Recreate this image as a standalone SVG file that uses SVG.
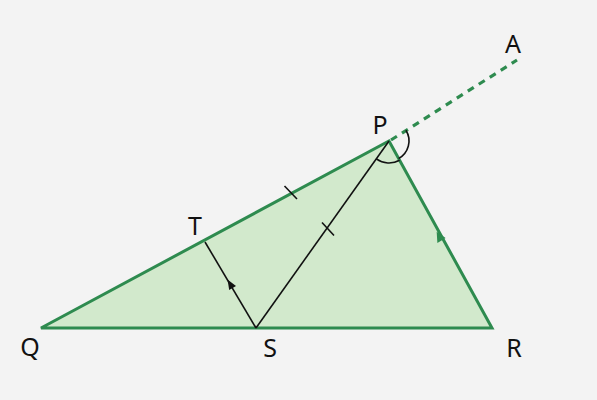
<svg xmlns="http://www.w3.org/2000/svg" width="597" height="400" viewBox="0 0 597 400">
<style>
.lbl{font-family:"Noto Sans","Liberation Sans",sans-serif;font-size:25px;fill:#111;text-anchor:middle}
.edge{fill:none;stroke:#2e8b4f;stroke-width:3;stroke-linejoin:round}
.thin{fill:none;stroke:#111;stroke-width:1.6}
.ahG{fill:#2e8b4f}
.ahK{fill:#111}
</style>
<rect width="597" height="400" fill="#f3f3f3"/>
<g id="triangle">
<polygon points="41,328 389,141 492,328" fill="#d2e9cc" stroke="#2e8b4f" stroke-width="3" stroke-linejoin="miter"/>
</g>
<g id="connectors">
<line x1="391" y1="140" x2="517" y2="60" stroke="#2e8b4f" stroke-width="3.2" stroke-dasharray="7,6"/>
<line class="thin" x1="256" y1="328" x2="389" y2="141"/>
<line class="thin" x1="256" y1="328" x2="205" y2="242"/>
<line class="thin" x1="284.5" y1="186" x2="297" y2="199"/>
<line class="thin" x1="322" y1="222.5" x2="334" y2="235.5"/>
<path class="thin" d="M376.3,158.9 A22,22 0 0 0 399.6,160.3"/>
<path class="thin" d="M405.9,130.3 A20,20 0 0 1 398.6,158.5"/>
<polygon class="ahK" points="227.5,279.5 236,286.1 229.2,290.1"/>
<polygon class="ahG" points="436.7,231.7 445.6,238 437.4,243"/>
</g>
<g id="labels">
<text class="lbl" x="380" y="134">P</text>
<text class="lbl" x="513" y="53">A</text>
<text class="lbl" x="195" y="235">T</text>
<text class="lbl" x="30" y="356">Q</text>
<text class="lbl" x="270" y="357">S</text>
<text class="lbl" x="514" y="357">R</text>
</g>
</svg>
